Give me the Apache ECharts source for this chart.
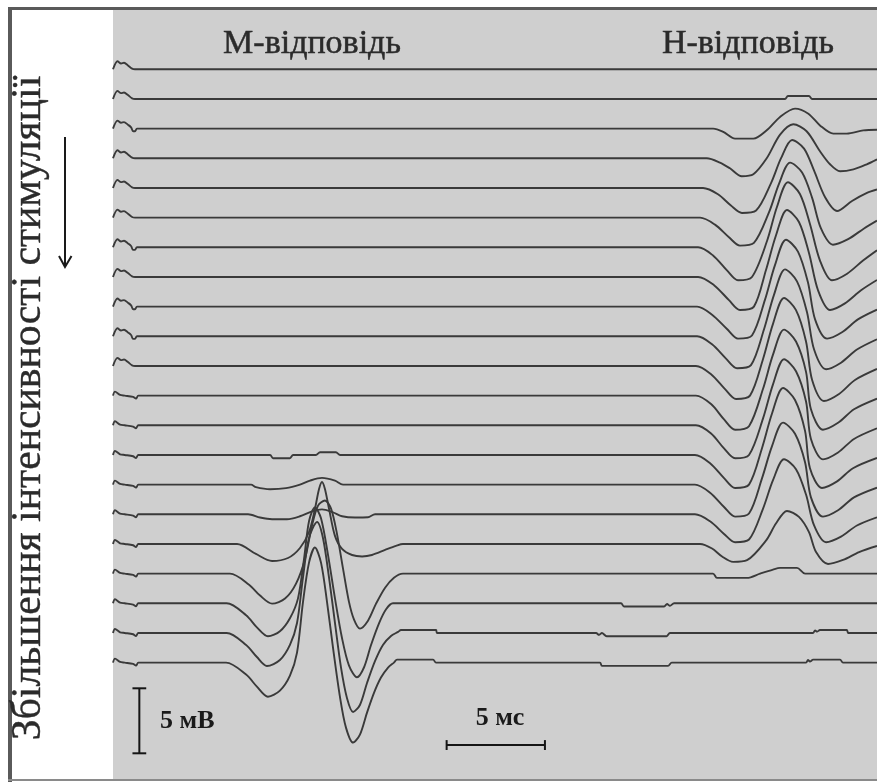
<!DOCTYPE html>
<html><head><meta charset="utf-8">
<script src="https://cdn.jsdelivr.net/npm/echarts@6/dist/echarts.min.js"></script>
<style>html,body{margin:0;padding:0;background:#fff}#c{width:877px;height:783px}</style>
</head><body><div id="c"></div>
<script>
// ---- data (time in ms, amplitude in mV relative to each sweep's baseline) ----
const sweepEnd = 38.86;
const traceSpacing = 2.282; // mV between stacked baselines
const scaleBarMV = 5;
const scaleBarMS = 5;
const titleM = 'М-відповідь';
const titleH = 'Н-відповідь';
const sideLabel = 'Збільшення інтенсивності стимуляції';

const artifactA = [[0,0],[0.23,0.62],[0.41,0.45],[0.56,0.5],[0.76,0.3],[0.97,0.05],[1.12,0]];
const artifactB = [[0,0],[0.23,0.62],[0.41,0.45],[0.56,0.5],[0.76,0.3],[0.92,0.1],[1.02,-0.2],[1.12,-0.2],[1.22,0]];
const artifactC = [[0,0],[0.1,0.31],[0.36,0.05],[0.6,0],[1.02,-0.1],[1.17,-0.23],[1.29,0]];
const artifactOf = ['A','A','B','A','A','A','B','A','B','B','A','C','C','C','C','C','C','C','C','C','C'];

const tr00 = [];
const tr01 = [[34.18,0],[34.33,0.23],[35.40,0.23],[35.56,0]];
const tr02 = [[30.53,0],[31.04,-0.25],[31.64,-0.77],[32.57,-0.77],[33.25,-0.13],[33.93,0.9],[34.69,1.54],[35.37,1.15],[35.96,0.25],[36.64,-0.38],[37.32,-0.38],[38.16,-0.13],[38.86,-0.08]];
const tr03 = [[30.20,0],[30.87,-0.33],[31.38,-0.77],[31.98,-1.38],[32.57,-1.23],[33.25,0],[33.93,1.82],[34.60,2.62],[35.28,2.08],[35.96,0.54],[36.47,-0.46],[36.98,-1.0],[37.66,-0.85],[38.34,-0.46],[38.86,-0.08]];
const tr04 = [[30.01,0],[30.77,-0.48],[31.43,-1.35],[31.99,-1.92],[32.71,-1.73],[33.47,0.37],[33.98,2.29],[34.54,3.69],[35.15,3.03],[35.66,1.33],[36.22,-0.71],[36.83,-1.77],[37.59,-1.0],[38.35,-0.38],[38.86,-0.12]];
const tr05 = [[29.86,0],[30.62,-0.54],[31.33,-1.51],[31.89,-2.15],[32.60,-1.94],[33.37,0.42],[33.88,2.62],[34.44,4.23],[35.05,3.47],[35.56,1.52],[36.01,-0.83],[36.62,-2.08],[37.39,-1.66],[38.20,-0.83],[38.86,-0.23]];
const tr06 = [[29.76,0],[30.52,-0.63],[31.23,-1.78],[31.79,-2.54],[32.50,-2.28],[33.27,0.5],[33.77,3.1],[34.33,5.0],[34.94,4.1],[35.45,1.8],[35.96,-1.02],[36.57,-2.54],[37.34,-2.03],[38.15,-1.02],[38.86,-0.23]];
const tr07 = [[29.76,0],[30.57,-0.63],[31.33,-1.78],[31.89,-2.54],[32.60,-2.28],[33.21,0.52],[33.72,3.19],[34.28,5.15],[34.89,4.23],[35.40,1.85],[35.86,-1.02],[36.47,-2.54],[37.23,-2.03],[38.05,-1.02],[38.86,-0.23]];
const tr08 = [[29.71,0],[30.47,-0.62],[31.23,-1.72],[31.79,-2.46],[32.50,-2.22],[33.16,0.52],[33.67,3.19],[34.23,5.15],[34.84,4.23],[35.35,1.85],[35.71,-0.98],[36.32,-2.46],[37.08,-1.97],[37.89,-0.98],[38.86,-0.23]];
const tr09 = [[29.71,0],[30.47,-0.62],[31.18,-1.72],[31.74,-2.46],[32.45,-2.22],[33.11,0.52],[33.62,3.19],[34.18,5.15],[34.79,4.23],[35.30,1.85],[35.66,-1.02],[36.27,-2.54],[37.03,-2.03],[37.84,-1.02],[38.86,-0.23]];
const tr10 = [[29.65,0],[30.42,-0.63],[31.13,-1.78],[31.69,-2.54],[32.40,-2.28],[33.06,0.52],[33.57,3.24],[34.13,5.23],[34.74,4.29],[35.25,1.88],[35.56,-1.08],[36.16,-2.69],[36.93,-2.15],[37.74,-1.08],[38.86,-0.23]];
const tr11 = [[29.65,0],[30.42,-0.65],[31.08,-1.83],[31.64,-2.62],[32.35,-2.35],[33.06,0.51],[33.57,3.15],[34.13,5.08],[34.74,4.16],[35.25,1.83],[35.50,-1.05],[36.11,-2.62],[36.88,-2.09],[37.69,-1.05],[38.86,-0.23]];
const tr12 = [[29.65,0],[30.42,-0.63],[31.08,-1.78],[31.64,-2.54],[32.35,-2.28],[33.06,0.51],[33.57,3.15],[34.13,5.08],[34.74,4.16],[35.25,1.83],[35.50,-1.05],[36.11,-2.62],[36.88,-2.09],[37.69,-1.05],[38.86,-0.23]];
const tr13 = [[7.99,0],[8.14,-0.25],[9.0,-0.25],[9.16,0],[10.32,0],[10.53,0.21],[11.34,0.21],[11.55,0],
  [29.60,0],[30.37,-0.63],[31.08,-1.78],[31.64,-2.54],[32.35,-2.28],[33.01,0.52],[33.52,3.19],[34.08,5.15],[34.69,4.23],[35.20,1.85],[35.45,-1.02],[36.06,-2.54],[36.83,-2.03],[37.64,-1.02],[38.86,-0.23]];
const tr14 = [[7.02,0],[7.27,-0.19],[7.99,-0.35],[8.80,-0.27],[9.51,0],[10.02,0.31],[10.63,0.52],[11.29,0.31],[11.70,0],
  [29.60,0],[30.37,-0.62],[31.08,-1.72],[31.64,-2.46],[32.35,-2.22],[33.01,0.48],[33.52,2.96],[34.08,4.77],[34.69,3.91],[35.20,1.72],[35.50,-0.98],[36.11,-2.46],[36.88,-1.97],[37.69,-0.98],[38.86,-0.23]];
const tr15 = [[6.87,0],[7.48,-0.25],[8.09,-0.38],[8.85,-0.38],[9.51,-0.15],[10.12,0.23],[10.63,0.38],[11.19,0.15],[11.65,-0.15],[12.31,-0.25],[12.97,-0.23],[13.33,0],
  [29.60,0],[30.37,-0.54],[31.08,-1.51],[31.64,-2.15],[32.35,-1.94],[33.06,0.42],[33.57,2.62],[34.13,4.23],[34.74,3.47],[35.25,1.52],[35.66,-0.86],[36.27,-2.15],[37.03,-1.72],[37.84,-0.86],[38.86,-0.23]];
const tr16 = [[6.31,0],[7.27,-0.77],[8.09,-1.31],[8.90,-1.08],[9.51,-0.31],[9.97,0.92],[10.27,2.69],[10.48,4.23],[10.63,4.77],[10.78,4.23],[10.99,2.69],[11.29,0.62],[11.65,-0.38],[12.16,-0.85],[12.67,-0.96],[13.17,-0.85],[13.84,-0.46],[14.39,-0.15],[14.75,0],
  [29.86,0],[30.47,-0.35],[30.98,-0.97],[31.54,-1.38],[32.25,-1.25],[33.21,0.25],[33.72,1.57],[34.28,2.54],[34.89,2.08],[35.40,0.91],[35.76,-0.62],[36.37,-1.54],[37.13,-1.23],[37.95,-0.62],[38.86,-0.15]];
const tr17 = [[5.95,0],[6.92,-0.85],[7.48,-1.69],[8.09,-2.31],[8.75,-1.92],[9.31,-0.77],[9.77,1.15],[10.12,3.69],[10.43,5.23],[10.78,5.62],[11.09,5.0],[11.39,3.08],[11.70,0.38],[12.00,-2.15],[12.26,-3.54],[12.56,-4.23],[12.97,-3.62],[13.38,-2.31],[13.84,-1.08],[14.29,-0.31],[14.75,0],
  [30.52,0],[30.72,-0.33],[32.25,-0.33],[32.91,0],[33.57,0.31],[33.93,0.44],[34.79,0.44],[35.20,0]];
const tr18 = [[5.78,0],[6.77,-0.92],[7.32,-1.85],[7.88,-2.54],[8.49,-2.15],[9.00,-1.15],[9.41,0.38],[9.72,3.46],[9.97,6.31],[10.27,7.38],[10.58,6.54],[10.94,3.69],[11.29,0.38],[11.65,-2.69],[12.00,-4.77],[12.41,-5.69],[12.77,-4.92],[13.12,-3.23],[13.53,-1.54],[13.89,-0.46],[14.24,0],
  [25.84,0],[25.99,-0.25],[28.03,-0.25],[28.18,-0.05],[28.33,-0.2],[28.54,0]];
const tr19 = [[5.78,0],[6.77,-0.92],[7.32,-1.85],[7.83,-2.54],[8.49,-2.08],[9.00,-0.92],[9.36,0.77],[9.66,4.23],[9.97,7.31],[10.38,8.54],[10.68,7.31],[10.99,4.23],[11.29,0.77],[11.60,-2.69],[11.90,-5.0],[12.21,-6.08],[12.56,-5.54],[12.92,-3.85],[13.33,-2.15],[13.73,-0.92],[14.14,-0.23],[14.50,0.08],[14.65,0.23],[16.43,0.23],[16.48,0],
  [24.57,0],[24.72,-0.15],[24.87,0],[25.11,-0.25],[28.16,-0.25],[28.33,0],[35.61,0],[35.71,0.2],[35.81,0.1],[35.96,0.23],[37.32,0.23],[37.40,0]];
const tr20 = [[5.75,0],[6.77,-0.92],[7.32,-1.85],[7.88,-2.62],[8.49,-2.15],[9.00,-1.0],[9.36,0.77],[9.66,4.62],[9.97,7.69],[10.27,8.85],[10.58,7.69],[10.89,4.62],[11.19,1.15],[11.55,-2.69],[11.85,-5.0],[12.21,-6.15],[12.56,-5.54],[12.92,-3.85],[13.28,-2.31],[13.63,-1.15],[13.99,-0.38],[14.29,0],[14.45,0.23],[16.28,0.23],[16.43,0],
  [24.77,0],[24.87,-0.25],[28.23,-0.25],[28.42,0],[35.25,0],[35.35,0.2],[35.45,0.08],[35.61,0.23],[36.98,0.23],[37.13,0]];

const sweeps = [tr00,tr01,tr02,tr03,tr04,tr05,tr06,tr07,tr08,tr09,tr10,tr11,tr12,tr13,tr14,tr15,tr16,tr17,tr18,tr19,tr20];

// ---- build ----
const artifacts = {A: artifactA, B: artifactB, C: artifactC};
const series = sweeps.map((ev, i) => {
  let pts = artifacts[artifactOf[i]].concat(ev);
  if (pts[pts.length - 1][0] < sweepEnd) pts = pts.concat([[sweepEnd, 0]]);
  const off = -i * traceSpacing;
  return {
    type: 'line', data: pts.map(p => [p[0], p[1] + off]),
    showSymbol: false, smooth: 0.3, clip: false, silent: true,
    lineStyle: {color: '#3a3a3a', width: 1.9}
  };
});

// scale bars (drawn in data units through the axes)
const vbT = 1.34, vbTop = -47.615, capHalf = 0.35;
const hbV = -51.98, hbT0 = 16.97, capV = 0.38;
const barStyle = {color: '#151515', width: 2};
function seg(a, b) {
  return {type: 'line', data: [a, b], showSymbol: false, silent: true, clip: false, lineStyle: barStyle};
}
series.push(seg([vbT, vbTop], [vbT, vbTop - scaleBarMV]));
series.push(seg([vbT - capHalf, vbTop], [vbT + capHalf, vbTop]));
series.push(seg([vbT - capHalf, vbTop - scaleBarMV], [vbT + capHalf, vbTop - scaleBarMV]));
series.push(seg([hbT0, hbV], [hbT0 + scaleBarMS, hbV]));
series.push(seg([hbT0, hbV + capV], [hbT0, hbV - capV]));
series.push(seg([hbT0 + scaleBarMS, hbV + capV], [hbT0 + scaleBarMS, hbV - capV]));

const chart = echarts.init(document.getElementById('c'), null, {renderer: 'canvas'});
chart.setOption({
  animation: false,
  backgroundColor: '#ffffff',
  grid: {left: 113, right: 0, top: 10, bottom: 3, show: true, backgroundColor: '#cfcfcf', borderWidth: 0},
  xAxis: {type: 'value', min: 0, max: sweepEnd, show: false},
  yAxis: {type: 'value', min: -54.669, max: 4.562, show: false},
  series: series,
  graphic: [
    {type: 'rect', shape: {x: 8, y: 7, width: 4, height: 775}, style: {fill: '#5a5a5a'}, silent: true},
    {type: 'rect', shape: {x: 8, y: 7, width: 869, height: 3}, style: {fill: '#5a5a5a'}, silent: true},
    {type: 'rect', shape: {x: 8, y: 779, width: 869, height: 2}, style: {fill: '#8a8a8a'}, silent: true},
    {type: 'text', x: 312, y: 44, style: {text: titleM, font: '34px "Liberation Serif"', fill: '#2b2b2b', stroke: '#2b2b2b', lineWidth: 0.5, align: 'center', verticalAlign: 'middle'}, silent: true},
    {type: 'text', x: 748, y: 44, style: {text: titleH, font: '34px "Liberation Serif"', fill: '#2b2b2b', stroke: '#2b2b2b', lineWidth: 0.5, align: 'center', verticalAlign: 'middle'}, silent: true},
    {type: 'text', x: 29, y: 408, rotation: Math.PI / 2, style: {text: sideLabel, font: '41.7px "Liberation Serif"', fill: '#2b2b2b', stroke: '#2b2b2b', lineWidth: 0.4, align: 'center', verticalAlign: 'middle'}, silent: true},
    {type: 'polyline', shape: {points: [[65, 137], [65, 266]]}, style: {stroke: '#1a1a1a', lineWidth: 2}, silent: true},
    {type: 'polyline', shape: {points: [[59, 256], [65, 267], [71.5, 256]]}, style: {stroke: '#1a1a1a', lineWidth: 2, fill: null}, silent: true},
    {type: 'text', x: 160, y: 721, style: {text: '5 мВ', font: 'bold 26px "Liberation Serif"', fill: '#1a1a1a', align: 'left', verticalAlign: 'middle'}, silent: true},
    {type: 'text', x: 500, y: 718, style: {text: '5 мс', font: 'bold 26px "Liberation Serif"', fill: '#1a1a1a', align: 'center', verticalAlign: 'middle'}, silent: true}
  ]
});
</script></body></html>
